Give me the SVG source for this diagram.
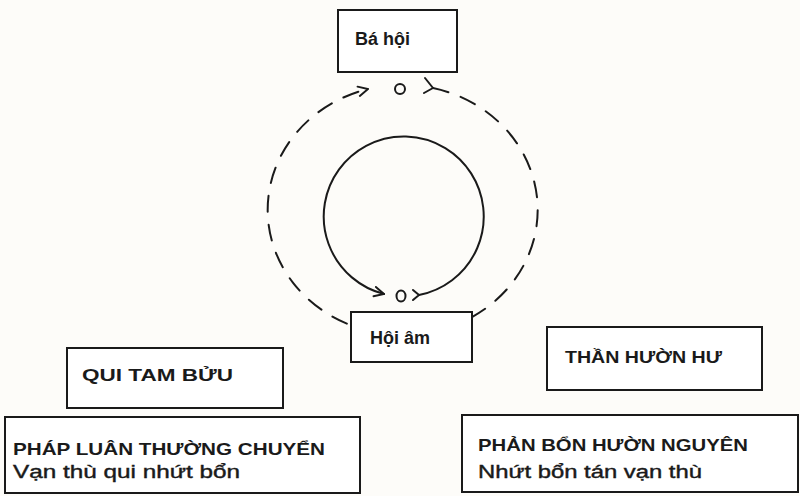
<svg xmlns="http://www.w3.org/2000/svg" width="800" height="496" viewBox="0 0 800 496">
<style>
.box{fill:#fff;stroke:#1a1a1a;stroke-width:2}
.lbl{font-family:"Liberation Sans",Arial,sans-serif;font-weight:bold;fill:#1a1a1a}
.cap{font-family:"Liberation Sans",Arial,sans-serif;font-weight:bold;fill:#1a1a1a;font-size:17px}
.sub{font-family:"Liberation Sans",Arial,sans-serif;fill:#1a1a1a;font-size:18px;stroke:#1a1a1a;stroke-width:0.4}
.ln{fill:none;stroke:#1a1a1a;stroke-width:2;stroke-linecap:round;stroke-linejoin:round}
</style>
<defs>
<marker id="ah" viewBox="0 0 10 10" refX="9" refY="5" markerWidth="6" markerHeight="6" orient="auto" markerUnits="strokeWidth">
<path d="M1,1 L9,5 L1,9" fill="none" stroke="#1a1a1a" stroke-width="1.6" stroke-linecap="round"/>
</marker>
</defs>
<rect width="800" height="496" fill="#fdfcf9"/>
<g id="connectors">
<path class="ln" d="M433,88 A135,125 0 1,1 368,89" stroke-dasharray="16,13" marker-end="url(#ah)"/>
<path class="ln" d="M425,78 L433,88 L424,93"/>
<circle class="ln" cx="400" cy="89" r="5" stroke-width="2.6"/>
<path class="ln" d="M419,295 A80,80 0 1,0 384,294" marker-end="url(#ah)"/>
<path class="ln" d="M413,290 L419,295 L413,300"/>
<ellipse class="ln" cx="401" cy="296" rx="4.5" ry="5.5" stroke-width="2.4"/>
</g>
<g id="ba-hoi">
<rect class="box" x="338" y="10" width="119" height="62"/>
<text class="lbl" x="355" y="45" font-size="18">Bá hội</text>
</g>
<g id="hoi-am">
<rect class="box" x="351" y="312" width="121" height="50"/>
<text class="lbl" x="370" y="344" font-size="18">Hội âm</text>
</g>
<g id="qui-tam-buu">
<rect class="box" x="67" y="348" width="216" height="60"/>
<text class="cap" x="82" y="381" textLength="151" lengthAdjust="spacingAndGlyphs">QUI TAM BỬU</text>
</g>
<g id="than-huon-hu">
<rect class="box" x="547" y="327" width="215" height="63"/>
<text class="cap" x="565" y="363" textLength="157" lengthAdjust="spacingAndGlyphs">THẦN HƯỜN HƯ</text>
</g>
<g id="phap-luan">
<rect class="box" x="5" y="417" width="355" height="76"/>
<text class="cap" x="13" y="455" textLength="312" lengthAdjust="spacingAndGlyphs">PHÁP LUÂN THƯỜNG CHUYỂN</text>
<text class="sub" x="13" y="478" textLength="227" lengthAdjust="spacingAndGlyphs">Vạn thù qui nhứt bổn</text>
</g>
<g id="phan-bon">
<rect class="box" x="462" y="415" width="336" height="77"/>
<text class="cap" x="478" y="451" textLength="270" lengthAdjust="spacingAndGlyphs">PHẢN BỔN HƯỜN NGUYÊN</text>
<text class="sub" x="478" y="478" textLength="224" lengthAdjust="spacingAndGlyphs">Nhứt bổn tán vạn thù</text>
</g>
</svg>
